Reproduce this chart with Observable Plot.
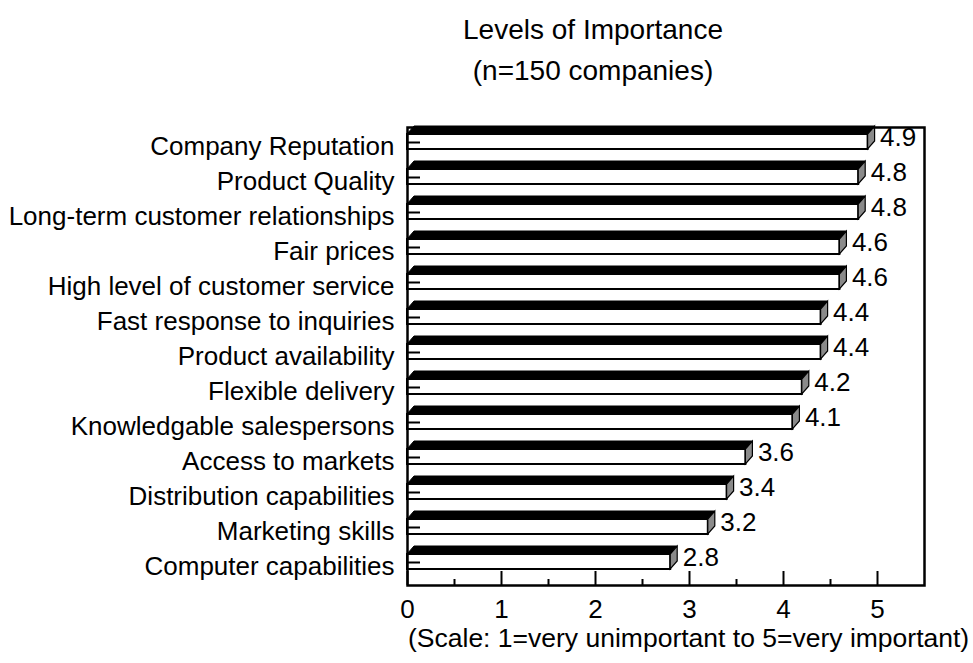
<!DOCTYPE html>
<html>
<head>
<meta charset="utf-8">
<script src="https://cdn.jsdelivr.net/npm/d3@7"></script>
<script src="https://cdn.jsdelivr.net/npm/@observablehq/plot@0.6"></script>
<style>
  html, body { margin: 0; padding: 0; background: white; }
  #page { position: relative; width: 973px; height: 663px; overflow: hidden; background: white;
          font-family: "Liberation Sans", Arial, Helvetica, sans-serif; color: black; }
  #chart { position: absolute; left: 0; top: 0; }
  .title { position: absolute; left: 593px; transform: translateX(-50%); white-space: nowrap;
           font-size: 28px; line-height: 32px; }
  #caption { position: absolute; left: 408px; top: 626px; white-space: nowrap;
             font-size: 26.5px; line-height: 24px; }
</style>
</head>
<body>
<div id="page">
  <div id="chart"></div>
  <div class="title" style="top:14px">Levels of Importance</div>
  <div class="title" style="top:55px">(n=150 companies)</div>
  <div id="caption">(Scale: 1=very unimportant to 5=very important)</div>
</div>
<script>
const categories = [
  "Company Reputation",
  "Product Quality",
  "Long-term customer relationships",
  "Fair prices",
  "High level of customer service",
  "Fast response to inquiries",
  "Product availability",
  "Flexible delivery",
  "Knowledgable salespersons",
  "Access to markets",
  "Distribution capabilities",
  "Marketing skills",
  "Computer capabilities"
];
const values = [4.9, 4.8, 4.8, 4.6, 4.6, 4.4, 4.4, 4.2, 4.1, 3.6, 3.4, 3.2, 2.8];
const majorTicks = [0, 1, 2, 3, 4, 5];
const minorTicks = [0.5, 1.5, 2.5, 3.5, 4.5];

const data = categories.map((c, i) => ({category: c, value: values[i]}));

const W = 973, H = 663;
const mL = 407, mR = 49, mT = 127, mB = 78;
const plotH = H - mT - mB;
const plotW = W - mL - mR;

// 3D bar drawing (top face, front face, side face), positioned with Plot's scales
function bars3d(index, scales) {
  const x = scales.x, y = scales.y;
  const bw = (y && typeof y.bandwidth === "function") ? y.bandwidth() : 34.8;
  const depthX = 7, depthY = 8;
  const g = d3.create("svg:g");
  for (const d of data) {
    const yc = y(d.category) + bw / 2;
    const x0 = x(0), x1 = x(d.value);
    const ft = yc - 12, fb = yc + 3;
    // top face
    g.append("path")
      .attr("d", `M${x0},${ft}L${x1},${ft}L${x1 + depthX},${ft - depthY}L${x0 + depthX},${ft - depthY}Z`)
      .attr("fill", "black").attr("stroke", "black").attr("stroke-width", 1);
    // front face
    g.append("rect")
      .attr("x", x0).attr("y", ft).attr("width", x1 - x0).attr("height", fb - ft)
      .attr("fill", "white").attr("stroke", "black").attr("stroke-width", 2);
    // side face
    g.append("path")
      .attr("d", `M${x1},${ft}L${x1 + depthX},${ft - depthY}L${x1 + depthX},${fb - depthY}L${x1},${fb}Z`)
      .attr("fill", "#8a8a8a").attr("stroke", "black").attr("stroke-width", 1.2);
  }
  return g.node();
}

const chart = Plot.plot({
  width: W,
  height: H,
  marginLeft: mL,
  marginRight: mR,
  marginTop: mT,
  marginBottom: mB,
  style: "font-family: 'Liberation Sans', Arial, Helvetica, sans-serif; font-size: 26px; color: black; background: white; overflow: visible;",
  x: {domain: [0, 5.5], ticks: majorTicks, tickSize: 0, tickPadding: 14, label: null, tickFormat: d => String(d)},
  y: {domain: categories, paddingInner: 0, paddingOuter: 0.075, tickSize: 0, tickPadding: 13, label: null},
  marks: [
    bars3d,
    Plot.tickY(categories, {y: d => d, insetRight: plotW - 13, dy: -4, stroke: "black", strokeWidth: 2}),
    Plot.tickX(majorTicks, {x: d => d, insetTop: plotH - 14, stroke: "black", strokeWidth: 2}),
    Plot.tickX(minorTicks, {x: d => d, insetTop: plotH - 6, stroke: "black", strokeWidth: 2}),
    Plot.text(data, {x: "value", y: "category", text: d => d.value.toFixed(1), textAnchor: "start", dx: 12, dy: -9, fill: "black"}),
    Plot.frame({stroke: "black", strokeWidth: 2.5})
  ]
});
document.getElementById("chart").appendChild(chart);
</script>
</body>
</html>
